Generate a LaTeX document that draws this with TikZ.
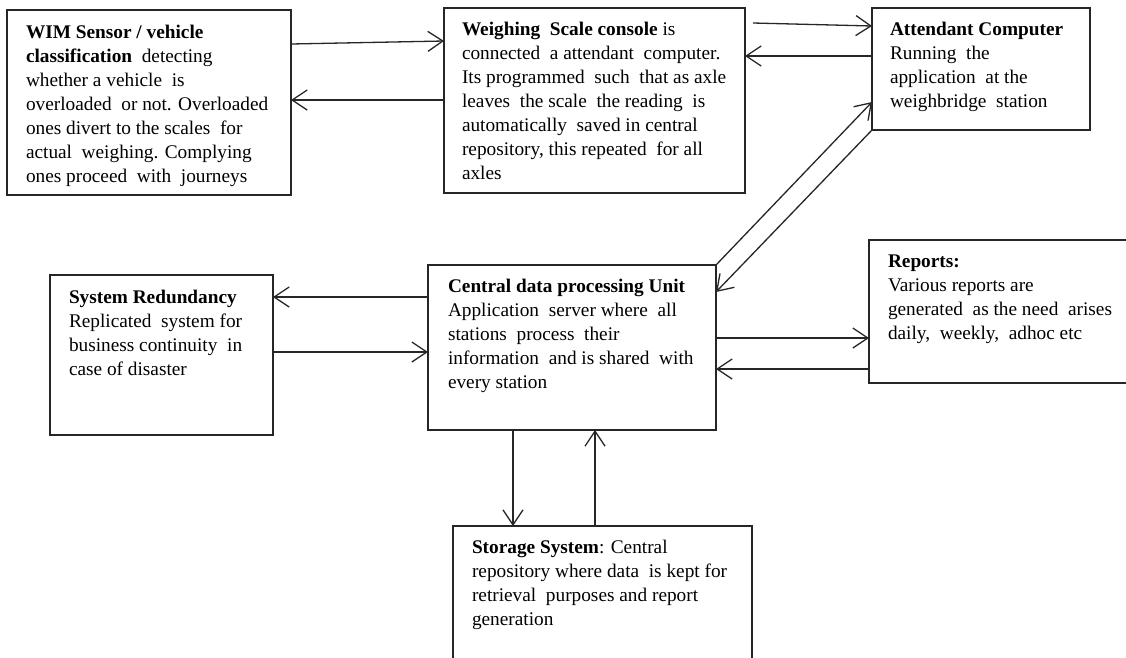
\documentclass[tikz,border=0pt]{standalone}
\usepackage{fontspec}
\setmainfont{Liberation Serif}
\usetikzlibrary{arrows.meta,calc}
\newcommand{\fstrut}{\rule{0pt}{15pt}}
\begin{document}
\begin{tikzpicture}[x=1pt,y=-1pt,
  box/.style={draw=black!85,line width=1.4pt,inner sep=0pt,outer sep=0pt,anchor=north west},
  txt/.style={inner sep=0pt,outer sep=0pt,anchor=north west,align=left,
    font=\fontsize{19.3}{24}\selectfont,text=black},
  link/.style={draw=black!85,line width=1.3pt,-{Straight Barb[length=15pt,width=20pt,line width=1.3pt]}}]
\useasboundingbox (0,0) rectangle (1126,657);
\fill[white] (0,0) rectangle (1126,657);

% boxes
\node[box,minimum width=284pt,minimum height=185pt] (wim) at (7,10) {};
\node[box,minimum width=301pt,minimum height=185pt] (wsc) at (444,8) {};
\node[box,minimum width=218pt,minimum height=122pt] (att) at (872,8) {};
\node[box,minimum width=223pt,minimum height=160pt] (sr)  at (50,275) {};
\node[box,minimum width=288pt,minimum height=165pt] (cdp) at (428,265) {};
\node[box,minimum width=266pt,minimum height=143pt] (rep) at (869,240) {};
\node[box,minimum width=299pt,minimum height=144pt] (sto) at (453,526) {};

% texts
\node[txt] (wimt) at (26,23) {\fstrut\textbf{WIM Sensor / vehicle}\\
  \textbf{classification}\ \ detecting\\
  whether a vehicle\ \ is\\
  overloaded\ \ or not. Overloaded\\
  ones divert to the scales\ \ for\\
  actual\ \ weighing. Complying\\
  ones proceed\ \ with\ \ journeys};
\node[txt] (wsct) at (462,20) {\fstrut\textbf{Weighing\ \ Scale console} is\\
  connected\ \ a attendant\ \ computer.\\
  Its programmed\ \ such\ \ that as axle\\
  leaves\ \ the scale\ \ the reading\ \ is\\
  automatically\ \ saved in central\\
  repository, this repeated\ \ for all\\
  axles};
\node[txt] (attt) at (890,20) {\fstrut\textbf{Attendant Computer}\\
  Running\ \ the\\
  application\ \ at the\\
  weighbridge\ \ station};
\node[txt] (srt) at (69,288) {\fstrut\textbf{System Redundancy}\\
  Replicated\ \ system for\\
  business continuity\ \ in\\
  case of disaster};
\node[txt] (cdpt) at (448,277) {\fstrut\textbf{Central data processing Unit}\\
  Application\ \ server where\ \ all\\
  stations\ \ process\ \ their\\
  information\ \ and is shared\ \ with\\
  every station};
\node[txt] (rept) at (888,252) {\fstrut\textbf{Reports:}\\
  Various reports are\\
  generated\ \ as the need\ \ arises\\
  daily,\ \ weekly,\ \ adhoc etc};
\node[txt] (stot) at (472,538) {\fstrut\textbf{Storage System}: Central\\
  repository where data\ \ is kept for\\
  retrieval\ \ purposes and report\\
  generation};

% connectors
\draw[link] (wim.east |- 0,44) -- (wsc.west |- 0,41);
\draw[link] (wsc.west |- 0,100) -- (wim.east |- 0,100);
\draw[link] ($(wsc.east |- 0,23)+(8,0)$) -- (att.west |- 0,26);
\draw[link] (att.west |- 0,56) -- (wsc.east |- 0,56);
\draw[link] (cdp.north east) -- (att.west |- 0,102);
\draw[link] (att.south west) -- (cdp.east |- 0,292);
\draw[link] (cdp.west |- 0,297) -- (sr.east |- 0,297);
\draw[link] (sr.east |- 0,352) -- (cdp.west |- 0,352);
\draw[link] (cdp.east |- 0,338) -- (rep.west |- 0,338);
\draw[link] (rep.west |- 0,369) -- (cdp.east |- 0,369);
\draw[link] (cdp.south -| 513,0) -- (sto.north -| 513,0);
\draw[link] (sto.north -| 595,0) -- (cdp.south -| 595,0);
\end{tikzpicture}
\end{document}
